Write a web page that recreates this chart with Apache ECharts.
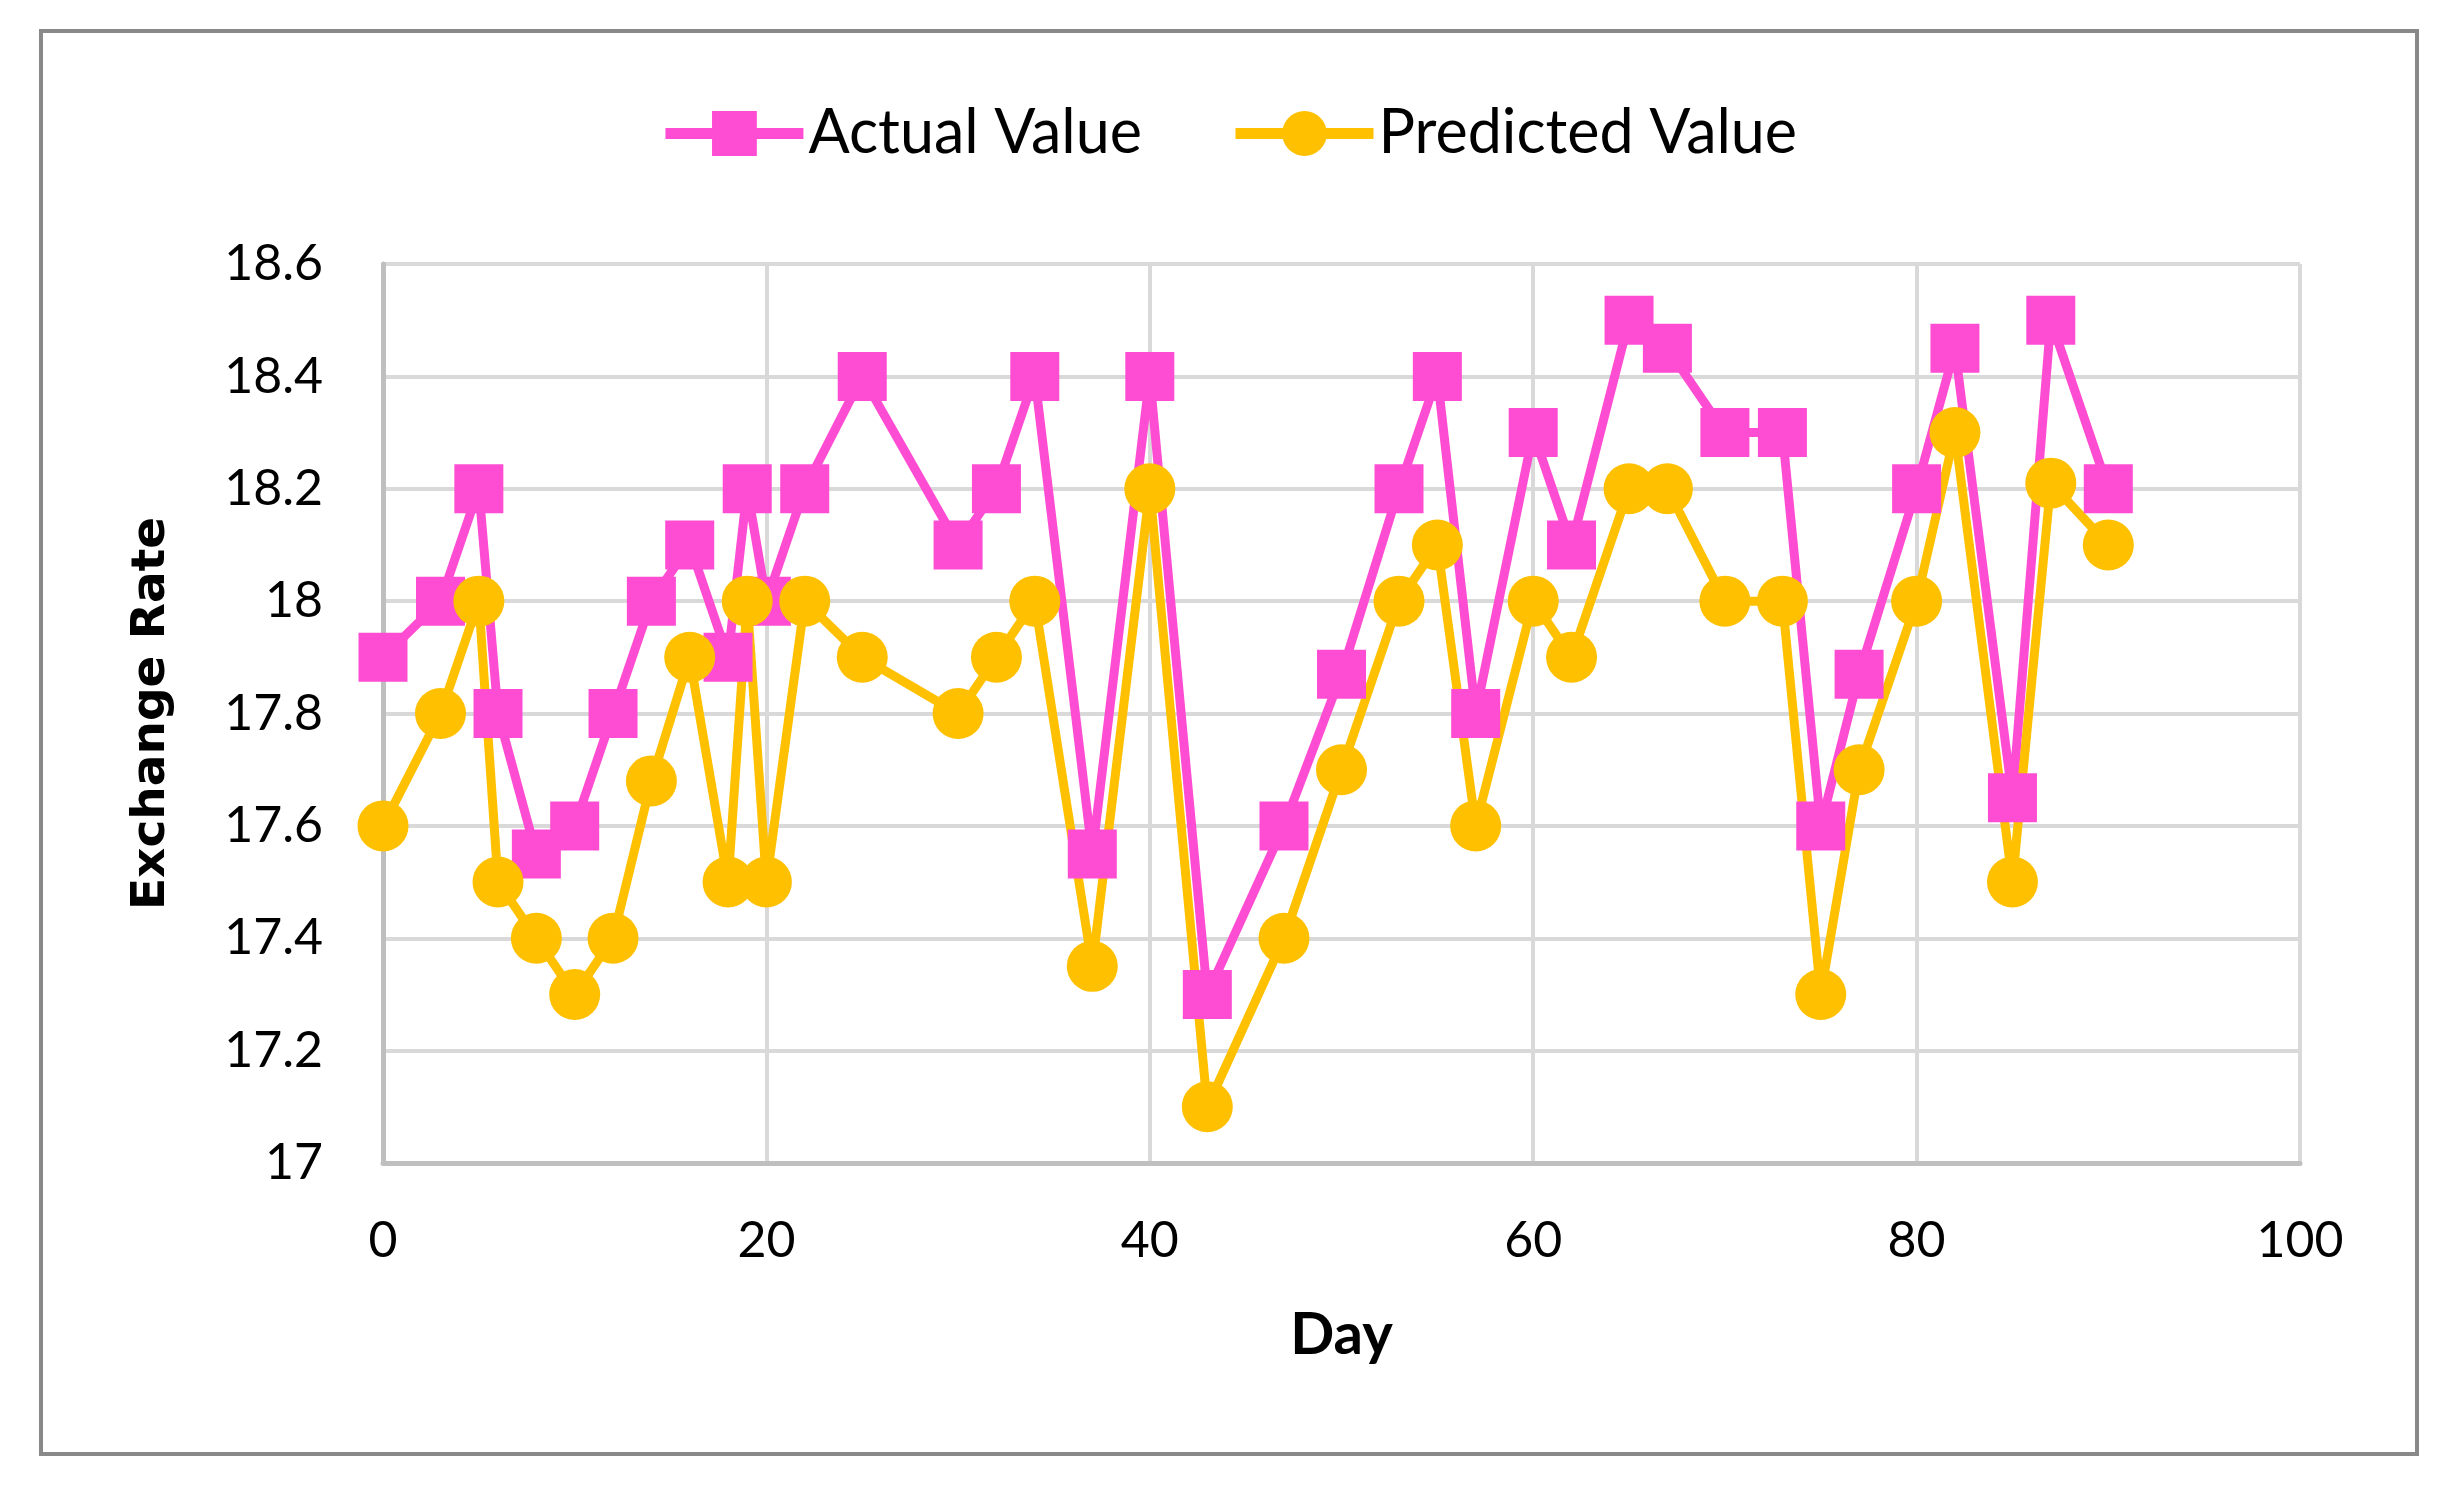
<!DOCTYPE html>
<html>
<head>
<meta charset="utf-8">
<style>
  html, body { margin: 0; padding: 0; background: #ffffff; }
  #chart { width: 2457px; height: 1488px; }
</style>
<script src="https://cdn.jsdelivr.net/npm/echarts@6/dist/echarts.min.js"></script>
</head>
<body>
<div id="chart"></div>
<script>
const days = [0, 3, 5, 6, 8, 10, 12, 14, 16, 18, 19, 20, 22, 25, 30, 32, 34, 37, 40, 43, 47, 50, 53, 55, 57, 60, 62, 65, 67, 70, 73, 75, 77, 80, 82, 85, 87, 90];
const actualValues = [17.9, 18.0, 18.2, 17.8, 17.55, 17.6, 17.8, 18.0, 18.1, 17.9, 18.2, 18.0, 18.2, 18.4, 18.1, 18.2, 18.4, 17.55, 18.4, 17.3, 17.6, 17.87, 18.2, 18.4, 17.8, 18.3, 18.1, 18.5, 18.45, 18.3, 18.3, 17.6, 17.87, 18.2, 18.45, 17.65, 18.5, 18.2];
const predictedValues = [17.6, 17.8, 18.0, 17.5, 17.4, 17.3, 17.4, 17.68, 17.9, 17.5, 18.0, 17.5, 18.0, 17.9, 17.8, 17.9, 18.0, 17.35, 18.2, 17.1, 17.4, 17.7, 18.0, 18.1, 17.6, 18.0, 17.9, 18.2, 18.2, 18.0, 18.0, 17.3, 17.7, 18.0, 18.3, 17.5, 18.21, 18.1];
const seriesNames = ['Actual Value', 'Predicted Value'];
const xAxisRange = { min: 0, max: 100, interval: 20 };
const yAxisRange = { min: 17, max: 18.6, interval: 0.2 };

const toPairs = (xs, ys) => xs.map((x, i) => [x, ys[i]]);

const chart = echarts.init(document.getElementById('chart'), null, { renderer: 'canvas' });
chart.setOption({
  animation: false,
  backgroundColor: '#ffffff',
  graphic: [{
    type: 'rect',
    shape: { x: 41, y: 31, width: 2376, height: 1423 },
    style: { fill: 'none', stroke: '#898989', lineWidth: 4 },
    silent: true
  }],
  legend: {
    top: 103,
    left: 'center',
    padding: 0,
    itemGap: 88,
    itemWidth: 138,
    itemHeight: 56,
    lineStyle: { width: 11 },
    textStyle: { fontFamily: 'Lato', fontSize: 61, color: '#000000', padding: [0, 0, 0, 0] },
    data: seriesNames
  },
  grid: { left: 383, right: 157, top: 264, bottom: 325, containLabel: false },
  xAxis: {
    type: 'value',
    min: xAxisRange.min,
    max: xAxisRange.max,
    interval: xAxisRange.interval,
    name: 'Day',
    nameLocation: 'middle',
    nameGap: 143,
    nameTextStyle: { fontFamily: 'Lato', fontWeight: 'bold', fontSize: 58, color: '#000000' },
    axisLine: { show: true, lineStyle: { color: '#bfbfbf', width: 5 } },
    axisTick: { show: false },
    axisLabel: { fontFamily: 'Lato', fontSize: 50, color: '#000000', margin: 53 },
    splitLine: { show: true, lineStyle: { color: '#d9d9d9', width: 4 } }
  },
  yAxis: {
    type: 'value',
    min: yAxisRange.min,
    max: yAxisRange.max,
    interval: yAxisRange.interval,
    name: 'Exchange Rate',
    nameLocation: 'middle',
    nameGap: 208,
    nameTextStyle: { fontFamily: 'DejaVu Sans', fontWeight: 'bold', fontSize: 47, color: '#000000' },
    axisLine: { show: true, lineStyle: { color: '#bfbfbf', width: 5 } },
    axisTick: { show: false },
    axisLabel: { fontFamily: 'Lato', fontSize: 50, color: '#000000', margin: 60 },
    splitLine: { show: true, lineStyle: { color: '#d9d9d9', width: 4 } }
  },
  series: [
    {
      name: seriesNames[0],
      type: 'line',
      data: toPairs(days, actualValues),
      symbol: 'rect',
      symbolSize: 49,
      showAllSymbol: true,
      itemStyle: { color: '#ff4dd3' },
      lineStyle: { color: '#ff4dd3', width: 9 }
    },
    {
      name: seriesNames[1],
      type: 'line',
      data: toPairs(days, predictedValues),
      symbol: 'circle',
      symbolSize: 51,
      showAllSymbol: true,
      itemStyle: { color: '#ffc000' },
      lineStyle: { color: '#ffc000', width: 9 }
    }
  ]
});
</script>
</body>
</html>
